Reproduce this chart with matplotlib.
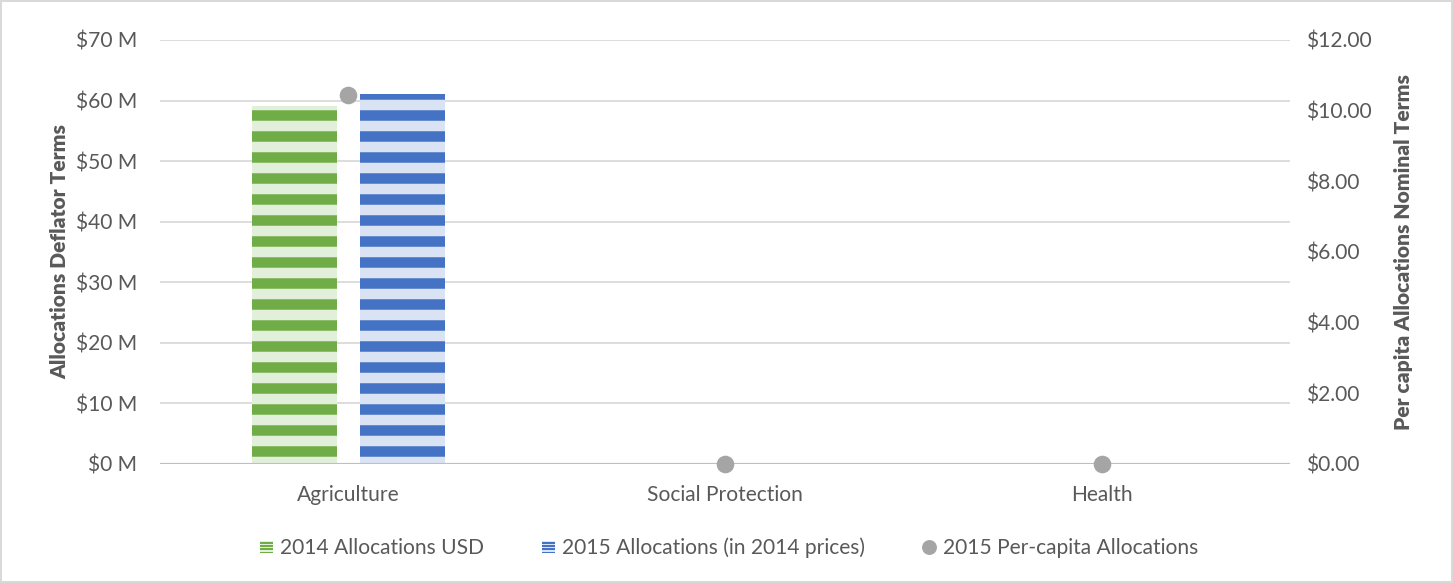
import matplotlib
matplotlib.use("Agg")
import matplotlib.pyplot as plt
import numpy as np
from matplotlib.patches import Rectangle
from matplotlib.lines import Line2D
from matplotlib.legend_handler import HandlerBase
from matplotlib.ticker import FuncFormatter, MultipleLocator

# данные графика
categories = ['Agriculture', 'Social Protection', 'Health']
alloc_2014_usd = [59.1, 0, 0]          # млн USD
alloc_2015_2014prices = [61.1, 0, 0]   # млн USD
per_capita_2015 = [10.45, 0, 0]        # USD на человека

DPI = 126  # подобрано, чтобы штриховка '-' шла с шагом ~21 px
W, H = 1453, 583

plt.rcParams['font.family'] = ['Lato', 'DejaVu Sans']
plt.rcParams['hatch.linewidth'] = 6.0

TEXT = '#595959'
GRID = '#d9d9d9'
FS = 12


class StripeHandler(HandlerBase):
    # маленький полосатый квадратик для легенды
    def __init__(self, light, dark, n=4):
        super().__init__()
        self.light, self.dark, self.n = light, dark, n

    def create_artists(self, legend, orig_handle, xdescent, ydescent,
                       width, height, fontsize, trans):
        side = min(width, height)
        x0 = -xdescent + (width - side) / 2
        y0 = -ydescent + (height - side) / 2
        arts = []
        step = side / (2 * self.n)
        for i in range(2 * self.n):
            c = self.dark if i % 2 == 0 else self.light
            arts.append(Rectangle((x0, y0 + i * step), side, step, facecolor=c,
                                  edgecolor='none', transform=trans))
        return arts


fig = plt.figure(figsize=(W / DPI, H / DPI), dpi=DPI)
fig.patch.set_edgecolor('#d9d9d9')
fig.patch.set_linewidth(1.2)

ax = fig.add_axes([160 / W, 1 - 464 / H, 1130 / W, 424 / H])
x = np.arange(len(categories))
bw = 0.227
off = 0.1435

ax.bar(x - off, alloc_2014_usd, bw, facecolor='#e2efda', edgecolor='#70ad47',
       linewidth=0, hatch='-', zorder=2)
ax.bar(x + off, alloc_2015_2014prices, bw, facecolor='#dae3f3', edgecolor='#4472c4',
       linewidth=0, hatch='-', zorder=2)

ax.set_xlim(-0.5, 2.5)
ax.set_ylim(0, 70)
ax.yaxis.set_major_locator(MultipleLocator(10))
ax.yaxis.set_major_formatter(FuncFormatter(lambda v, p: f'${v:.0f} M'))
ax.grid(axis='y', color=GRID, linewidth=1.0, zorder=0)
ax.axhline(0, color='#bfbfbf', linewidth=1.8, zorder=3)
for s in ax.spines.values():
    s.set_visible(False)
ax.set_xticks(x)
ax.set_xticklabels(categories)
ax.tick_params(axis='both', length=0, labelsize=FS, labelcolor=TEXT)
ax.tick_params(axis='x', pad=12)
ax.tick_params(axis='y', pad=13)
ax.set_ylabel('Allocations Deflator Terms', fontsize=FS, fontweight='heavy',
              color=TEXT, labelpad=4)

ax2 = ax.twinx()
ax2.set_ylim(0, 12)
ax2.yaxis.set_major_locator(MultipleLocator(2))
ax2.yaxis.set_major_formatter(FuncFormatter(lambda v, p: f'${v:.2f}'))
ax2.scatter(x, per_capita_2015, s=82, color='#a5a5a5', zorder=5, clip_on=False)
for s in ax2.spines.values():
    s.set_visible(False)
ax2.tick_params(axis='y', length=0, labelsize=FS, labelcolor=TEXT, pad=9)
ax2.set_ylabel('Per capita Allocations Nominal Terms', fontsize=FS,
               fontweight='heavy', color=TEXT, labelpad=13)

h_green = Rectangle((0, 0), 1, 1)
h_blue = Rectangle((0, 0), 1, 1)
h_dot = Line2D([], [], marker='o', linestyle='none', color='#a5a5a5', markersize=7.5)
labels = ['2014 Allocations USD', '2015 Allocations (in 2014 prices)',
          '2015 Per-capita Allocations']
leg = fig.legend([h_green, h_blue, h_dot], labels, loc='center',
                 bbox_to_anchor=(729 / W, 1 - 548 / H),
                 ncol=3, frameon=False, fontsize=FS, handlelength=0.6,
                 handleheight=0.6, handletextpad=0.35, columnspacing=2.75,
                 handler_map={h_green: StripeHandler('#e2efda', '#70ad47'),
                              h_blue: StripeHandler('#dae3f3', '#4472c4')})
for t in leg.get_texts():
    t.set_color(TEXT)

fig.savefig('out.png', dpi=DPI, edgecolor=fig.get_edgecolor())
